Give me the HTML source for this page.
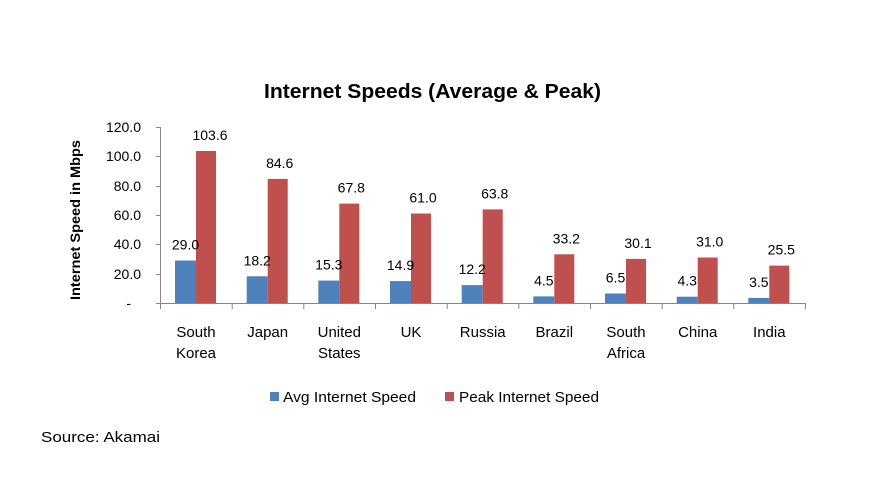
<!DOCTYPE html>
<html><head><meta charset="utf-8"><style>
html,body{margin:0;padding:0;background:#fff;}
svg{display:block;font-family:"Liberation Sans",sans-serif;}
</style></head><body>
<svg width="883" height="483" viewBox="0 0 883 483" xmlns="http://www.w3.org/2000/svg">
<rect width="883" height="483" fill="#fff"/>
<text x="264" y="98" font-size="20" font-weight="bold" fill="#000" textLength="337" lengthAdjust="spacingAndGlyphs">Internet Speeds (Average &amp; Peak)</text>
<text transform="translate(80,220) rotate(-90)" text-anchor="middle" font-size="14" font-weight="bold" fill="#000" textLength="160" lengthAdjust="spacingAndGlyphs">Internet Speed in Mbps</text>
<g font-size="14" fill="#000" text-anchor="end">
<text x="141" y="132">120.0</text>
<text x="141" y="161">100.0</text>
<text x="141" y="191">80.0</text>
<text x="141" y="220">60.0</text>
<text x="141" y="249">40.0</text>
<text x="141" y="279">20.0</text>
<text x="131" y="308">-</text>
</g>
<g stroke="#868686" stroke-width="1">
<line x1="160.5" y1="127" x2="160.5" y2="303"/>
<line x1="156" y1="127.5" x2="160" y2="127.5"/>
<line x1="156" y1="156.5" x2="160" y2="156.5"/>
<line x1="156" y1="186.5" x2="160" y2="186.5"/>
<line x1="156" y1="215.5" x2="160" y2="215.5"/>
<line x1="156" y1="244.5" x2="160" y2="244.5"/>
<line x1="156" y1="274.5" x2="160" y2="274.5"/>
<line x1="156" y1="303.5" x2="805" y2="303.5"/>
<line x1="160.5" y1="303" x2="160.5" y2="309"/>
<line x1="232.2" y1="303" x2="232.2" y2="309"/>
<line x1="303.8" y1="303" x2="303.8" y2="309"/>
<line x1="375.5" y1="303" x2="375.5" y2="309"/>
<line x1="447.2" y1="303" x2="447.2" y2="309"/>
<line x1="518.8" y1="303" x2="518.8" y2="309"/>
<line x1="590.5" y1="303" x2="590.5" y2="309"/>
<line x1="662.2" y1="303" x2="662.2" y2="309"/>
<line x1="733.8" y1="303" x2="733.8" y2="309"/>
<line x1="805.5" y1="303" x2="805.5" y2="309"/>
</g>
<g fill="#4F81BD">
<rect x="175" y="260.5" width="21" height="42.5"/>
<rect x="246.7" y="276.3" width="21" height="26.7"/>
<rect x="318.3" y="280.6" width="21" height="22.4"/>
<rect x="390" y="281.1" width="21" height="21.9"/>
<rect x="461.7" y="285.1" width="21" height="17.9"/>
<rect x="533.3" y="296.4" width="21" height="6.6"/>
<rect x="605" y="293.5" width="21" height="9.5"/>
<rect x="676.7" y="296.7" width="21" height="6.3"/>
<rect x="748.3" y="297.9" width="21" height="5.1"/>
</g>
<g fill="#C0504D">
<rect x="196" y="151" width="20" height="152"/>
<rect x="267.7" y="178.9" width="20" height="124.1"/>
<rect x="339.3" y="203.6" width="20" height="99.4"/>
<rect x="411" y="213.5" width="20" height="89.5"/>
<rect x="482.7" y="209.4" width="20" height="93.6"/>
<rect x="554.3" y="254.3" width="20" height="48.7"/>
<rect x="626" y="258.9" width="20" height="44.1"/>
<rect x="697.7" y="257.5" width="20" height="45.5"/>
<rect x="769.3" y="265.6" width="20" height="37.4"/>
</g>
<g font-size="14" fill="#000" text-anchor="middle">
<text x="185.5" y="249.5">29.0</text>
<text x="257.2" y="265.3">18.2</text>
<text x="328.8" y="269.6">15.3</text>
<text x="400.5" y="270.1">14.9</text>
<text x="472.2" y="274.1">12.2</text>
<text x="543.8" y="285.4">4.5</text>
<text x="615.5" y="282.5">6.5</text>
<text x="687.2" y="285.7">4.3</text>
<text x="758.8" y="286.9">3.5</text>
<text x="210" y="140">103.6</text>
<text x="279.7" y="167.9">84.6</text>
<text x="351.3" y="192.6">67.8</text>
<text x="423" y="202.5">61.0</text>
<text x="494.7" y="198.4">63.8</text>
<text x="566.3" y="243.3">33.2</text>
<text x="638" y="247.9">30.1</text>
<text x="709.7" y="246.5">31.0</text>
<text x="781.3" y="254.6">25.5</text>
</g>
<g font-size="15" fill="#000" text-anchor="middle">
<text x="196" y="337">South</text><text x="196" y="358">Korea</text>
<text x="267.7" y="337">Japan</text>
<text x="339.3" y="337">United</text><text x="339.3" y="358">States</text>
<text x="411" y="337">UK</text>
<text x="482.7" y="337">Russia</text>
<text x="554.3" y="337">Brazil</text>
<text x="626" y="337">South</text><text x="626" y="358">Africa</text>
<text x="697.7" y="337">China</text>
<text x="769.3" y="337">India</text>
</g>
<rect x="270" y="392" width="9" height="9" fill="#4F81BD"/>
<text x="283" y="402" font-size="15" fill="#000" textLength="133" lengthAdjust="spacingAndGlyphs">Avg Internet Speed</text>
<rect x="445" y="392" width="9" height="9" fill="#C0504D"/>
<text x="459" y="402" font-size="15" fill="#000" textLength="140" lengthAdjust="spacingAndGlyphs">Peak Internet Speed</text>
<text x="41" y="442" font-size="15" fill="#000" textLength="119" lengthAdjust="spacingAndGlyphs">Source: Akamai</text>
</svg>
</body></html>
